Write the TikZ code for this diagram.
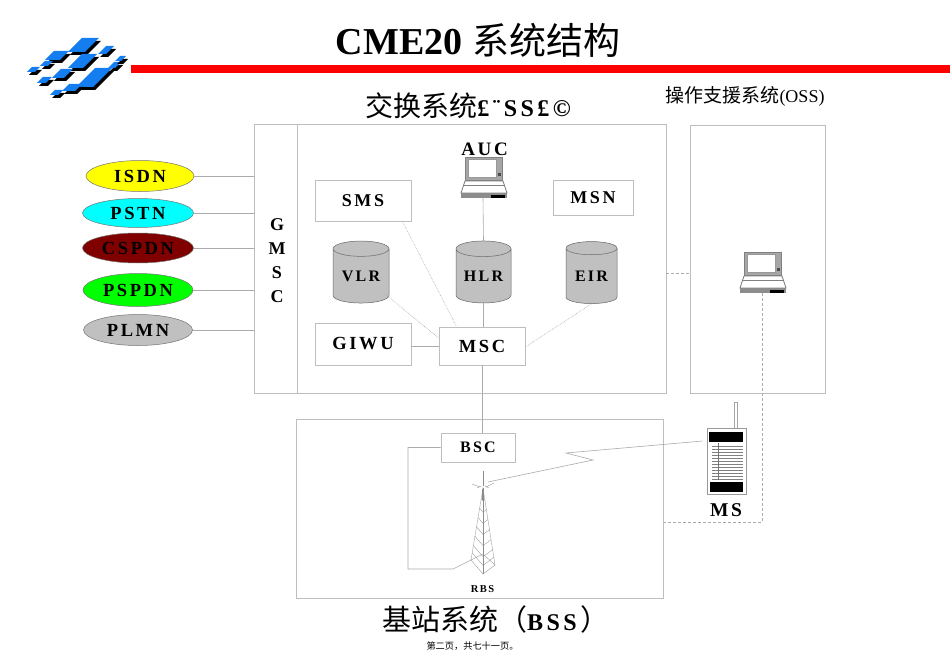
\documentclass[tikz,border=0pt]{standalone}
\usepackage{fontspec}
\usepackage{tikz}
\usetikzlibrary{calc,positioning,shapes.geometric}
\setmainfont{Liberation Serif}
\newfontfamily\cjkfont{Noto Sans CJK SC}
\newfontfamily\spacedfont[LetterSpace=14]{Liberation Serif}
\newcommand{\sizedfont}[1]{\spacedfont\bfseries\fontsize{#1}{#1}\selectfont}
\newcommand{\logopiece}[4]{
\fill[black] (#1+2,#2+3) -- ++(#3,0) -- ++(#4,-#4) -- ++(-#3,0) -- cycle;
\fill[logoblue] (#1,#2) -- ++(#3,0) -- ++(#4,-#4) -- ++(-#3,0) -- cycle;
}
\definecolor{logoblue}{RGB}{20,125,240}
\definecolor{framegray}{RGB}{190,190,190}
\definecolor{tankgray}{RGB}{192,192,192}
\definecolor{netcyan}{RGB}{0,255,255}
\definecolor{netgreen}{RGB}{0,255,0}
\definecolor{netyellow}{RGB}{255,255,0}
\definecolor{netred}{RGB}{128,0,0}
\tikzset{
frame/.style={draw=framegray,fill=white,line width=0.8pt,inner sep=0pt},
link/.style={draw=framegray!90!black,line width=0.6pt},
dotlink/.style={link,densely dotted},
dashlink/.style={link,dash pattern=on 3pt off 2pt},
netnode/.style={ellipse,draw=black!55,line width=0.5pt,inner sep=0pt,text=black},
tank/.style={cylinder,shape border rotate=90,aspect=0.4,draw=black!60,line width=0.5pt,cylinder uses custom fill,cylinder body fill=tankgray,cylinder end fill=tankgray,inner sep=0pt,font=\sizedfont{16}},
laptop/.pic={
\fill[white] (-19,-20) rectangle (19,3);
\draw[black!50,fill=black!35,line width=0.7pt] (-19,-20) rectangle (18,3);
\draw[black!40,fill=white,line width=0.4pt] (-16,-18) rectangle (12,0);
\fill[black!70] (13.5,-4) rectangle (16.5,-1);
\draw[black!50,fill=white,line width=0.9pt] (-19,4) -- (19,4) -- (23,16) -- (-23,16) -- cycle;
\draw[black!50,line width=0.6pt] (-20,8) -- (20,8);
\fill[black!45] (-23.5,16) rectangle (23,21);
\fill[black] (7,18) rectangle (21,21);
\coordinate (-south) at (-1,21);
}
}
\begin{document}
\begin{tikzpicture}[x=1pt,y=-1pt]
\useasboundingbox (0,0) rectangle (950,658);

% logo and bar
\logopiece{68}{52}{17}{14}
\logopiece{45}{60}{15}{9}
\logopiece{68}{68}{15}{14}
\logopiece{98}{54}{8}{8}
\logopiece{27}{72}{8}{5}
\logopiece{40}{66}{8}{5}
\logopiece{52}{78}{12}{9}
\logopiece{37}{83}{9}{6}
\logopiece{76}{87}{17}{19}
\logopiece{62}{91}{13}{7}
\logopiece{50}{95}{8}{5}
\logopiece{108}{68}{7}{6}
\logopiece{115}{61}{6}{5}
\fill[red] (131,65) rectangle (950,73);

\node (title) at (478,40) {\bfseries\fontsize{38}{38}\selectfont CME20 {\cjkfont\mdseries\fontsize{37}{37}\selectfont 系统结构}};
\node (nsstitle) at (468,106) {\fontsize{28}{28}\selectfont\cjkfont 交换系统{\sizedfont{24}£¨SS£©}};
\node (osstitle) at (745,96) {\fontsize{19}{19}\selectfont\cjkfont 操作支援系统{\rmfamily\fontsize{18}{18}\selectfont(OSS)}};

% frames
\node[frame,minimum width=370pt,minimum height=269pt] (nss) at (481,258.5) {};
\node[frame,minimum width=43pt,minimum height=269pt] (gmsc) at (275.5,258.5) {};
\node[align=center,inner sep=0pt,font=\sizedfont{18}] (gmsclabel) at (277,260.5) {G\\[6.2pt]M\\[6.2pt]S\\[6.2pt]C};
\node[frame,minimum width=135.5pt,minimum height=268.5pt] (oss) at (758,259.5) {};
\node[frame,minimum width=367pt,minimum height=179pt] (bss) at (479.5,508.5) {};

% networks on the left
\node[netnode,fill=netyellow,minimum width=108pt,minimum height=31pt,font=\sizedfont{18.5}] (isdn) at (140,176) {ISDN};
\node[netnode,fill=netcyan,minimum width=111pt,minimum height=29pt,font=\sizedfont{18.5}] (pstn) at (138,213) {PSTN};
\node[netnode,fill=netred,minimum width=111pt,minimum height=30pt,font=\sizedfont{18.5}] (cspdn) at (138,248) {CSPDN};
\node[netnode,fill=netgreen,minimum width=110pt,minimum height=33pt,font=\sizedfont{18.5}] (pspdn) at (138,290) {PSPDN};
\node[netnode,fill=tankgray,minimum width=109pt,minimum height=31pt,font=\sizedfont{18.5}] (plmn) at (138,330) {PLMN};
\foreach \n in {isdn,pstn,cspdn,pspdn,plmn}
\draw[link] (\n.east) -- (\n.east -| gmsc.west);

% switching part
\node[frame,minimum width=96pt,minimum height=41pt,font=\sizedfont{18}] (sms) at (363,200.5) {SMS};
\node[frame,minimum width=80pt,minimum height=35pt,font=\sizedfont{18}] (msn) at (593,197.5) {MSN};
\node[frame,minimum width=96pt,minimum height=42pt,font=\sizedfont{18.5}] (giwu) at (363,344) {GIWU};
\node[frame,minimum width=86pt,minimum height=38pt,font=\sizedfont{18.5}] (msc) at (482,346) {MSC};
\node[tank,minimum width=56pt,minimum height=62pt] (vlr) at (361,276) {VLR};
\node[tank,minimum width=55pt,minimum height=62pt] (hlr) at (483.5,276) {HLR};
\node[tank,minimum width=51pt,minimum height=62pt] (eir) at (591.5,276) {EIR};
\pic (auc) at (484,177) {laptop};
\node[font=\sizedfont{19},inner sep=0pt] (auclabel) at (484.5,149) {AUC};

\draw[link] (auc-south) -- (hlr.north);
\draw[link] (hlr.south) -- (hlr.south |- msc.north);
\draw[link] (giwu.east |- msc.west) -- (msc.west);
\draw[dotlink] (sms.south east) ++(-9,0) -- ($(msc.north west)+(18,0)$);
\draw[dotlink] (vlr.south east) ++(0,-6) -- ($(msc.west)+(0,-8)$);
\draw[dotlink] (eir.south) -- ($(msc.east)+(0,1)$);

% oss side
\pic (omc) at (763,272) {laptop};
\draw[dashlink] (nss.east |- 0,273) -- (oss.west |- 0,273);

% bss part
\node[frame,minimum width=74pt,minimum height=29pt,font=\sizedfont{16}] (bsc) at (478,447.5) {BSC};
\draw[link] (msc.south) -- (msc.south |- bsc.north);

\coordinate (twrtop) at (483,488);
\coordinate (twrleft) at (471,560);
\coordinate (twrright) at (495,565);
\coordinate (twrbase) at (483,574);
\coordinate (twrback) at (483,554);
\begin{scope}[black!45,line width=0.3pt]
\draw (twrtop) -- (twrleft) -- (twrbase) -- (twrright) -- cycle;
\draw (twrtop) -- (twrbase);
\draw (twrleft) -- (twrback) -- (twrright);
\foreach \t in {0.15,0.28,0.41,0.54,0.67,0.8,0.9}
\draw ($(twrtop)!\t!(twrleft)$) -- ($(twrtop)!\t!(twrbase)$) -- ($(twrtop)!\t!(twrright)$);
\fill[black!45] (481.5,489) rectangle (484,500);
\draw (483,471) -- (483,486);
\draw (472,484) -- (480,487) (477,488) -- (481,486);
\draw (494,483) -- (486,487) (489,488) -- (485,486);
\end{scope}
\node[font=\sizedfont{10.5},inner sep=0pt] (rbs) at (482.5,589) {RBS};
\draw[link] (bsc.west) -- (408,447.5) -- (408,569) -- (453,569) -- (twrleft);

% mobile
\node[draw=black!40,fill=white,line width=0.7pt,minimum width=39pt,minimum height=66pt,inner sep=0pt] (ms) at (726.5,461) {};
\draw[black!35,line width=0.7pt] (734,428) -- (734,402) -- (737,402) -- (737,428);
\fill[black] (709,432) rectangle (743,442);
\fill[black] (710,482) rectangle (743,492);
\foreach \y in {446,449,...,479}
\draw[black!50,line width=0.4pt] (712,\y) -- (743,\y);
\draw[black!55,line width=0.4pt] (718,443) -- (718,480);
\node[font=\sizedfont{19.5},inner sep=0pt] (mslabel) at (726,510) {MS};
\draw[link] (ms.west |- 0,441) ++(-4,0) -- (566,453) -- (593,460) -- (488,482);
\draw[dashlink] (omc-south) -- (omc-south |- 0,522) -- (664,522);

\node[anchor=west,inner sep=0pt,font=\fontsize{29}{29}\selectfont\cjkfont] (bsstitle) at (382,619) {基站系统（{\sizedfont{24}BSS}\kern4pt）};
\node[font=\fontsize{9.2}{9.2}\selectfont\cjkfont] (pagenote) at (472.5,646) {第二页，共七十一页。};
\end{tikzpicture}
\end{document}
